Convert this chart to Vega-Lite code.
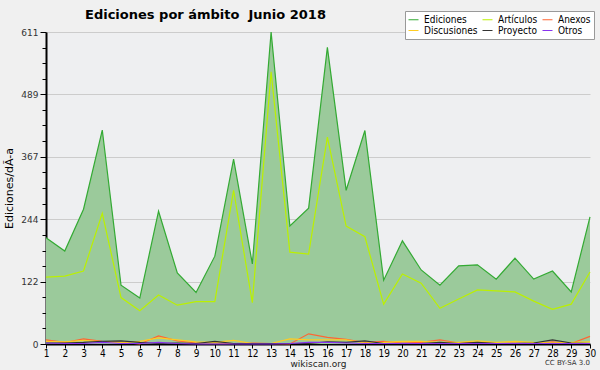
{
  "$schema": "https://vega.github.io/schema/vega-lite/v6.json",
  "width": 544,
  "height": 312,
  "autosize": "none",
  "padding": {"left": 46, "top": 32, "right": 10, "bottom": 26},
  "background": "#f0f0f0",
  "title": {
    "text": "Ediciones por ámbito \u00a0Junio 2018",
    "anchor": "start",
    "frame": "group",
    "dx": 39,
    "dy": 11,
    "offset": 0,
    "font": "DejaVu Sans",
    "fontSize": 13,
    "fontWeight": "bold",
    "color": "#000000"
  },
  "config": {
    "view": {"fill": "#eeeff1", "stroke": null},
    "font": "DejaVu Sans",
    "axisX": {"labelOverlap": false, "labelFlush": false}
  },
  "datasets": {
    "main": [
      {"day":1,"serie":"Ediciones","value":208},{"day":2,"serie":"Ediciones","value":182},{"day":3,"serie":"Ediciones","value":264},{"day":4,"serie":"Ediciones","value":419},{"day":5,"serie":"Ediciones","value":115},{"day":6,"serie":"Ediciones","value":90},{"day":7,"serie":"Ediciones","value":260},{"day":8,"serie":"Ediciones","value":139},{"day":9,"serie":"Ediciones","value":101},{"day":10,"serie":"Ediciones","value":172},{"day":11,"serie":"Ediciones","value":362},{"day":12,"serie":"Ediciones","value":157},{"day":13,"serie":"Ediciones","value":611},{"day":14,"serie":"Ediciones","value":231},{"day":15,"serie":"Ediciones","value":266},{"day":16,"serie":"Ediciones","value":581},{"day":17,"serie":"Ediciones","value":301},{"day":18,"serie":"Ediciones","value":418},{"day":19,"serie":"Ediciones","value":125},{"day":20,"serie":"Ediciones","value":202},{"day":21,"serie":"Ediciones","value":145},{"day":22,"serie":"Ediciones","value":115},{"day":23,"serie":"Ediciones","value":153},{"day":24,"serie":"Ediciones","value":155},{"day":25,"serie":"Ediciones","value":127},{"day":26,"serie":"Ediciones","value":168},{"day":27,"serie":"Ediciones","value":127},{"day":28,"serie":"Ediciones","value":143},{"day":29,"serie":"Ediciones","value":102},{"day":30,"serie":"Ediciones","value":249},
      {"day":1,"serie":"Artículos","value":131},{"day":2,"serie":"Artículos","value":133},{"day":3,"serie":"Artículos","value":143},{"day":4,"serie":"Artículos","value":256},{"day":5,"serie":"Artículos","value":91},{"day":6,"serie":"Artículos","value":65},{"day":7,"serie":"Artículos","value":96},{"day":8,"serie":"Artículos","value":76},{"day":9,"serie":"Artículos","value":83},{"day":10,"serie":"Artículos","value":83},{"day":11,"serie":"Artículos","value":301},{"day":12,"serie":"Artículos","value":81},{"day":13,"serie":"Artículos","value":533},{"day":14,"serie":"Artículos","value":180},{"day":15,"serie":"Artículos","value":176},{"day":16,"serie":"Artículos","value":405},{"day":17,"serie":"Artículos","value":231},{"day":18,"serie":"Artículos","value":210},{"day":19,"serie":"Artículos","value":78},{"day":20,"serie":"Artículos","value":137},{"day":21,"serie":"Artículos","value":119},{"day":22,"serie":"Artículos","value":70},{"day":23,"serie":"Artículos","value":88},{"day":24,"serie":"Artículos","value":106},{"day":25,"serie":"Artículos","value":104},{"day":26,"serie":"Artículos","value":102},{"day":27,"serie":"Artículos","value":84},{"day":28,"serie":"Artículos","value":68},{"day":29,"serie":"Artículos","value":78},{"day":30,"serie":"Artículos","value":141},
      {"day":1,"serie":"Anexos","value":8},{"day":2,"serie":"Anexos","value":3},{"day":3,"serie":"Anexos","value":10},{"day":4,"serie":"Anexos","value":5},{"day":5,"serie":"Anexos","value":3},{"day":6,"serie":"Anexos","value":0},{"day":7,"serie":"Anexos","value":16},{"day":8,"serie":"Anexos","value":6},{"day":9,"serie":"Anexos","value":2},{"day":10,"serie":"Anexos","value":2},{"day":11,"serie":"Anexos","value":1},{"day":12,"serie":"Anexos","value":2},{"day":13,"serie":"Anexos","value":1},{"day":14,"serie":"Anexos","value":0},{"day":15,"serie":"Anexos","value":20},{"day":16,"serie":"Anexos","value":13},{"day":17,"serie":"Anexos","value":9},{"day":18,"serie":"Anexos","value":3},{"day":19,"serie":"Anexos","value":5},{"day":20,"serie":"Anexos","value":2},{"day":21,"serie":"Anexos","value":3},{"day":22,"serie":"Anexos","value":8},{"day":23,"serie":"Anexos","value":2},{"day":24,"serie":"Anexos","value":3},{"day":25,"serie":"Anexos","value":1},{"day":26,"serie":"Anexos","value":2},{"day":27,"serie":"Anexos","value":1},{"day":28,"serie":"Anexos","value":4},{"day":29,"serie":"Anexos","value":1},{"day":30,"serie":"Anexos","value":15},
      {"day":1,"serie":"Discusiones","value":5},{"day":2,"serie":"Discusiones","value":4},{"day":3,"serie":"Discusiones","value":7},{"day":4,"serie":"Discusiones","value":4},{"day":5,"serie":"Discusiones","value":3},{"day":6,"serie":"Discusiones","value":5},{"day":7,"serie":"Discusiones","value":12},{"day":8,"serie":"Discusiones","value":8},{"day":9,"serie":"Discusiones","value":4},{"day":10,"serie":"Discusiones","value":3},{"day":11,"serie":"Discusiones","value":7},{"day":12,"serie":"Discusiones","value":1},{"day":13,"serie":"Discusiones","value":1},{"day":14,"serie":"Discusiones","value":10},{"day":15,"serie":"Discusiones","value":8},{"day":16,"serie":"Discusiones","value":8},{"day":17,"serie":"Discusiones","value":8},{"day":18,"serie":"Discusiones","value":2},{"day":19,"serie":"Discusiones","value":3},{"day":20,"serie":"Discusiones","value":5},{"day":21,"serie":"Discusiones","value":5},{"day":22,"serie":"Discusiones","value":3},{"day":23,"serie":"Discusiones","value":3},{"day":24,"serie":"Discusiones","value":6},{"day":25,"serie":"Discusiones","value":3},{"day":26,"serie":"Discusiones","value":5},{"day":27,"serie":"Discusiones","value":3},{"day":28,"serie":"Discusiones","value":2},{"day":29,"serie":"Discusiones","value":3},{"day":30,"serie":"Discusiones","value":4},
      {"day":1,"serie":"Proyecto","value":2},{"day":2,"serie":"Proyecto","value":2},{"day":3,"serie":"Proyecto","value":3},{"day":4,"serie":"Proyecto","value":5},{"day":5,"serie":"Proyecto","value":6},{"day":6,"serie":"Proyecto","value":3},{"day":7,"serie":"Proyecto","value":1},{"day":8,"serie":"Proyecto","value":2},{"day":9,"serie":"Proyecto","value":1},{"day":10,"serie":"Proyecto","value":5},{"day":11,"serie":"Proyecto","value":1},{"day":12,"serie":"Proyecto","value":1},{"day":13,"serie":"Proyecto","value":1},{"day":14,"serie":"Proyecto","value":1},{"day":15,"serie":"Proyecto","value":1},{"day":16,"serie":"Proyecto","value":4},{"day":17,"serie":"Proyecto","value":3},{"day":18,"serie":"Proyecto","value":6},{"day":19,"serie":"Proyecto","value":1},{"day":20,"serie":"Proyecto","value":1},{"day":21,"serie":"Proyecto","value":1},{"day":22,"serie":"Proyecto","value":3},{"day":23,"serie":"Proyecto","value":1},{"day":24,"serie":"Proyecto","value":3},{"day":25,"serie":"Proyecto","value":1},{"day":26,"serie":"Proyecto","value":1},{"day":27,"serie":"Proyecto","value":2},{"day":28,"serie":"Proyecto","value":8},{"day":29,"serie":"Proyecto","value":2},{"day":30,"serie":"Proyecto","value":1},
      {"day":1,"serie":"Otros","value":2},{"day":2,"serie":"Otros","value":1},{"day":3,"serie":"Otros","value":1},{"day":4,"serie":"Otros","value":3},{"day":5,"serie":"Otros","value":1},{"day":6,"serie":"Otros","value":1},{"day":7,"serie":"Otros","value":3},{"day":8,"serie":"Otros","value":1},{"day":9,"serie":"Otros","value":0},{"day":10,"serie":"Otros","value":0},{"day":11,"serie":"Otros","value":0},{"day":12,"serie":"Otros","value":0},{"day":13,"serie":"Otros","value":0},{"day":14,"serie":"Otros","value":1},{"day":15,"serie":"Otros","value":3},{"day":16,"serie":"Otros","value":3},{"day":17,"serie":"Otros","value":2},{"day":18,"serie":"Otros","value":1},{"day":19,"serie":"Otros","value":1},{"day":20,"serie":"Otros","value":1},{"day":21,"serie":"Otros","value":1},{"day":22,"serie":"Otros","value":1},{"day":23,"serie":"Otros","value":1},{"day":24,"serie":"Otros","value":1},{"day":25,"serie":"Otros","value":1},{"day":26,"serie":"Otros","value":1},{"day":27,"serie":"Otros","value":1},{"day":28,"serie":"Otros","value":1},{"day":29,"serie":"Otros","value":1},{"day":30,"serie":"Otros","value":1}
    ],
    "credit": [{"day": 30, "value": 0, "label": "CC BY-SA 3.0"}]
  },
  "resolve": {"axis": {"y": "independent"}},
  "layer": [
    {
      "data": {"name": "main"},
      "transform": [{"filter": "datum.serie === 'Ediciones'"}],
      "mark": {"type": "area", "fill": "#9bca9b", "opacity": 1},
      "encoding": {
        "x": {"field": "day", "type": "quantitative", "scale": {"domain": [1, 30], "nice": false, "zero": false},
          "axis": {"values": [1,2,3,4,5,6,7,8,9,10,11,12,13,14,15,16,17,18,19,20,21,22,23,24,25,26,27,28,29,30],
            "grid": false, "title": "wikiscan.org", "titleFontSize": 9, "titleFontWeight": "normal", "titleColor": "#222222", "titlePadding": 1,
            "labelFontSize": 10, "labelFont": "DejaVu Sans Condensed", "labelColor": "#000000", "labelPadding": 0,
            "labelOverlap": false, "labelFlush": false,
            "domainColor": "#000000", "domainWidth": 2, "tickColor": "#000000", "tickSize": 4}},
        "y": {"field": "value", "type": "quantitative", "scale": {"domain": [0, 611], "nice": false},
          "axis": {"values": [0, 122, 244, 367, 489, 611], "grid": true, "gridColor": "#cccccc",
            "title": "Ediciones/dÃ-a", "titleFontSize": 11, "titleFontWeight": "normal", "titleColor": "#000000", "titlePadding": 6,
            "labelFontSize": 9, "labelColor": "#333333", "domainColor": "#000000", "domainWidth": 2,
            "tickColor": "#000000", "tickSize": 6}}
      }
    },
    {
      "data": {"name": "main"},
      "mark": {"type": "line", "strokeWidth": 1.2},
      "encoding": {
        "x": {"field": "day", "type": "quantitative",
          "axis": {"values": [1,2,3,4,5,6,7,8,9,10,11,12,13,14,15,16,17,18,19,20,21,22,23,24,25,26,27,28,29,30],
            "grid": false, "title": "wikiscan.org", "titleFontSize": 9, "titleFontWeight": "normal", "titleColor": "#222222", "titlePadding": 1,
            "labelFontSize": 10, "labelFont": "DejaVu Sans Condensed", "labelColor": "#000000", "labelPadding": 0,
            "labelOverlap": false, "labelFlush": false,
            "domainColor": "#000000", "domainWidth": 2, "tickColor": "#000000", "tickSize": 4}},
        "y": {"field": "value", "type": "quantitative",
          "axis": {"orient": "left", "values": [30.5, 61, 91.5, 152.5, 183, 213.5, 274.5, 305.5, 336, 397, 428, 458.5, 519.5, 550, 580.5],
            "labels": false, "grid": false, "domain": false, "title": null, "tickColor": "#000000", "tickSize": 4}},
        "color": {"field": "serie", "type": "nominal",
          "scale": {"domain": ["Ediciones", "Artículos", "Anexos", "Discusiones", "Proyecto", "Otros"],
            "range": ["#33aa33", "#bbf000", "#ff6633", "#ffcc22", "#333333", "#8833ee"]},
          "legend": {"title": null, "orient": "none", "legendX": 359, "legendY": -21, "columns": 3, "direction": "horizontal",
            "fillColor": "#ffffff", "strokeColor": "#999999", "padding": 3, "symbolType": "stroke", "symbolSize": 100,
            "symbolStrokeWidth": 1, "labelFont": "DejaVu Sans Condensed", "labelFontSize": 10, "labelColor": "#000000",
            "columnPadding": 2, "rowPadding": 0, "labelOffset": 5}},
        "order": {"field": "day"}
      }
    },
    {
      "data": {"name": "credit"},
      "mark": {"type": "text", "align": "right", "baseline": "top", "dy": 15, "fontSize": 7, "color": "#333333"},
      "encoding": {
        "x": {"field": "day", "type": "quantitative",
          "axis": {"values": [1,2,3,4,5,6,7,8,9,10,11,12,13,14,15,16,17,18,19,20,21,22,23,24,25,26,27,28,29,30],
            "grid": false, "title": "wikiscan.org", "titleFontSize": 9, "titleFontWeight": "normal", "titleColor": "#222222", "titlePadding": 1,
            "labelFontSize": 10, "labelFont": "DejaVu Sans Condensed", "labelColor": "#000000", "labelPadding": 0,
            "labelOverlap": false, "labelFlush": false,
            "domainColor": "#000000", "domainWidth": 2, "tickColor": "#000000", "tickSize": 4}},
        "y": {"field": "value", "type": "quantitative", "axis": null},
        "text": {"field": "label"}
      }
    }
  ]
}
